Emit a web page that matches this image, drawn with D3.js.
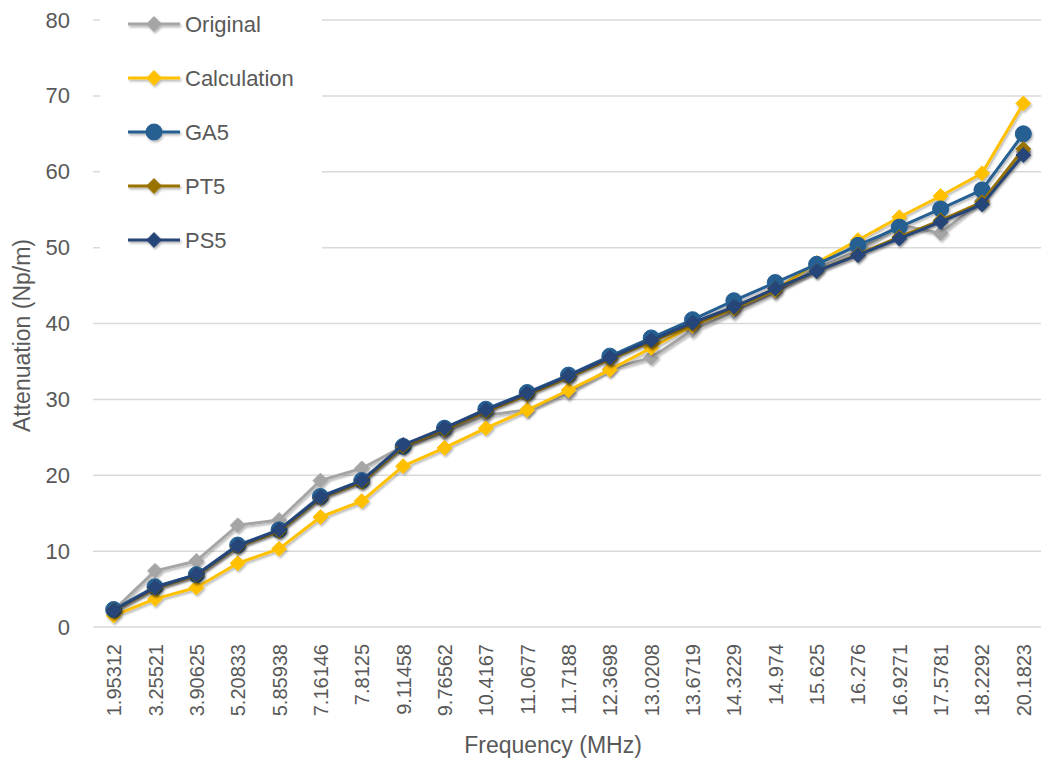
<!DOCTYPE html>
<html>
<head>
<meta charset="utf-8">
<script src="https://cdn.jsdelivr.net/npm/d3@7"></script>
<style>
  html, body { margin: 0; padding: 0; background: #fff; }
  svg { display: block; font-family: "Liberation Sans", Arial, sans-serif; }
</style>
</head>
<body>
<svg id="chart" width="1041" height="762"></svg>
<script>
// Frequency categories (MHz)
const frequencies = ["1.95312", "3.25521", "3.90625", "5.20833", "5.85938", "7.16146", "7.8125",
  "9.11458", "9.76562", "10.4167", "11.0677", "11.7188", "12.3698", "13.0208", "13.6719",
  "14.3229", "14.974", "15.625", "16.276", "16.9271", "17.5781", "18.2292", "20.1823"];

// Attenuation (Np/m) per series
const original    = [2.2, 7.4, 8.7, 13.4, 14.1, 19.3, 20.9, 23.8, 25.6, 27.9, 28.6, 30.9, 34.0, 35.5, 39.1, 41.5, 44.1, 47.2, 49.6, 53.0, 51.9, 56.2, 62.6];
const calculation = [1.5, 3.7, 5.2, 8.4, 10.3, 14.5, 16.6, 21.2, 23.6, 26.2, 28.6, 31.2, 33.9, 36.8, 39.7, 42.0, 44.4, 48.0, 51.0, 54.0, 56.8, 59.8, 69.0];
const ga5         = [2.3, 5.3, 6.9, 10.8, 12.8, 17.2, 19.3, 23.8, 26.2, 28.7, 30.9, 33.2, 35.7, 38.1, 40.5, 43.0, 45.4, 47.8, 50.3, 52.7, 55.1, 57.6, 65.0];
const pt5         = [2.2, 5.1, 6.8, 10.6, 12.6, 17.0, 19.1, 23.8, 26.0, 28.4, 30.6, 32.9, 35.3, 37.6, 39.9, 42.1, 44.6, 46.9, 49.1, 51.4, 53.6, 56.0, 63.0];
const ps5         = [2.2, 5.2, 6.9, 10.7, 12.8, 17.1, 19.3, 24.0, 26.2, 28.6, 30.8, 33.1, 35.5, 37.8, 40.1, 42.2, 44.6, 46.9, 49.0, 51.2, 53.4, 55.7, 62.2];

const yTicks = [0, 10, 20, 30, 40, 50, 60, 70, 80];

const series = [
  { name: "Original",    values: original,    color: "#A5A5A5", marker: "diamond" },
  { name: "Calculation", values: calculation, color: "#FFC000", marker: "diamond" },
  { name: "GA5",         values: ga5,         color: "#255E91", marker: "circle" },
  { name: "PT5",         values: pt5,         color: "#997300", marker: "diamond" },
  { name: "PS5",         values: ps5,         color: "#264478", marker: "diamond" }
];

const textColor = "#595959";
const svg = d3.select("#chart");
const plot = { left: 93, right: 1044, top: 20, bottom: 627 };

// Soft shadow under series lines and markers
const defs = svg.append("defs");
const shadow = defs.append("filter")
  .attr("id", "shadow")
  .attr("x", "-20%").attr("y", "-20%")
  .attr("width", "140%").attr("height", "140%");
shadow.append("feDropShadow")
  .attr("dx", 1.2).attr("dy", 1.8)
  .attr("stdDeviation", 1.2)
  .attr("flood-color", "#000")
  .attr("flood-opacity", 0.3);

const x = d3.scalePoint()
  .domain(frequencies)
  .range([plot.left, plot.right])
  .padding(0.5);

const y = d3.scaleLinear()
  .domain([0, 80])
  .range([plot.bottom, plot.top]);

// Horizontal gridlines
svg.append("g")
  .selectAll("line")
  .data(yTicks)
  .join("line")
  .attr("x1", plot.left)
  .attr("x2", 1041)
  .attr("y1", d => y(d))
  .attr("y2", d => y(d))
  .attr("stroke", "#D9D9D9")
  .attr("stroke-width", 1.5);

// Y axis labels
const yAxis = svg.append("g")
  .attr("transform", `translate(${plot.left},0)`)
  .call(d3.axisLeft(y).tickValues(yTicks).tickSize(0).tickPadding(23));
yAxis.select(".domain").remove();
yAxis.selectAll("text")
  .attr("fill", textColor)
  .style("font-size", "22px")
  .style("font-family", "'Liberation Sans', Arial, sans-serif");

// X axis labels, rotated
const xAxis = svg.append("g")
  .attr("transform", `translate(0,${plot.bottom})`)
  .call(d3.axisBottom(x).tickSize(0));
xAxis.select(".domain").remove();
xAxis.selectAll("text")
  .attr("fill", textColor)
  .style("font-size", "20px")
  .style("font-family", "'Liberation Sans', Arial, sans-serif")
  .attr("text-anchor", "end")
  .attr("dy", "0.35em")
  .attr("transform", "translate(0,17) rotate(-90)")
  .attr("x", 0)
  .attr("y", 0);

// Axis titles
svg.append("text")
  .attr("transform", `translate(30,${(plot.top + plot.bottom) / 2 + 12}) rotate(-90)`)
  .attr("text-anchor", "middle")
  .attr("fill", textColor)
  .style("font-size", "23px")
  .text("Attenuation (Np/m)");

svg.append("text")
  .attr("x", 553)
  .attr("y", 753)
  .attr("text-anchor", "middle")
  .attr("fill", textColor)
  .style("font-size", "23px")
  .text("Frequency (MHz)");

const symbolFor = m => m === "circle"
  ? d3.symbol().type(d3.symbolCircle).size(Math.PI * 8 * 8)
  : d3.symbol().type(d3.symbolDiamond2).size(140);

const line = d3.line()
  .x((d, i) => x(frequencies[i]))
  .y(d => y(d));

// Series lines and markers
series.forEach(s => {
  const g = svg.append("g").attr("filter", "url(#shadow)");
  g.append("path")
    .datum(s.values)
    .attr("d", line)
    .attr("fill", "none")
    .attr("stroke", s.color)
    .attr("stroke-width", 3)
    .attr("stroke-linejoin", "round");
  g.selectAll("path.mk")
    .data(s.values)
    .join("path")
    .attr("class", "mk")
    .attr("d", symbolFor(s.marker)())
    .attr("transform", (d, i) => `translate(${x(frequencies[i])},${y(d)})`)
    .attr("fill", s.color)
    .attr("stroke", s.color)
    .attr("stroke-width", 1);
});

// Legend
const legend = svg.append("g");
legend.append("rect")
  .attr("x", 100).attr("y", 0)
  .attr("width", 222).attr("height", 262)
  .attr("fill", "#fff");
const legendY = d3.scalePoint().domain(series.map(s => s.name)).range([24, 240]);
series.forEach(s => {
  const ly = legendY(s.name);
  const item = legend.append("g");
  const mark = item.append("g").attr("filter", "url(#shadow)");
  mark.append("line")
    .attr("x1", 128).attr("x2", 180)
    .attr("y1", ly).attr("y2", ly)
    .attr("stroke", s.color).attr("stroke-width", 3);
  mark.append("path")
    .attr("d", symbolFor(s.marker)())
    .attr("transform", `translate(154,${ly})`)
    .attr("fill", s.color).attr("stroke", s.color);
  item.append("text")
    .attr("x", 185).attr("y", ly)
    .attr("dy", "0.35em")
    .attr("fill", textColor)
    .style("font-size", "22px")
    .text(s.name);
});
</script>
</body>
</html>
